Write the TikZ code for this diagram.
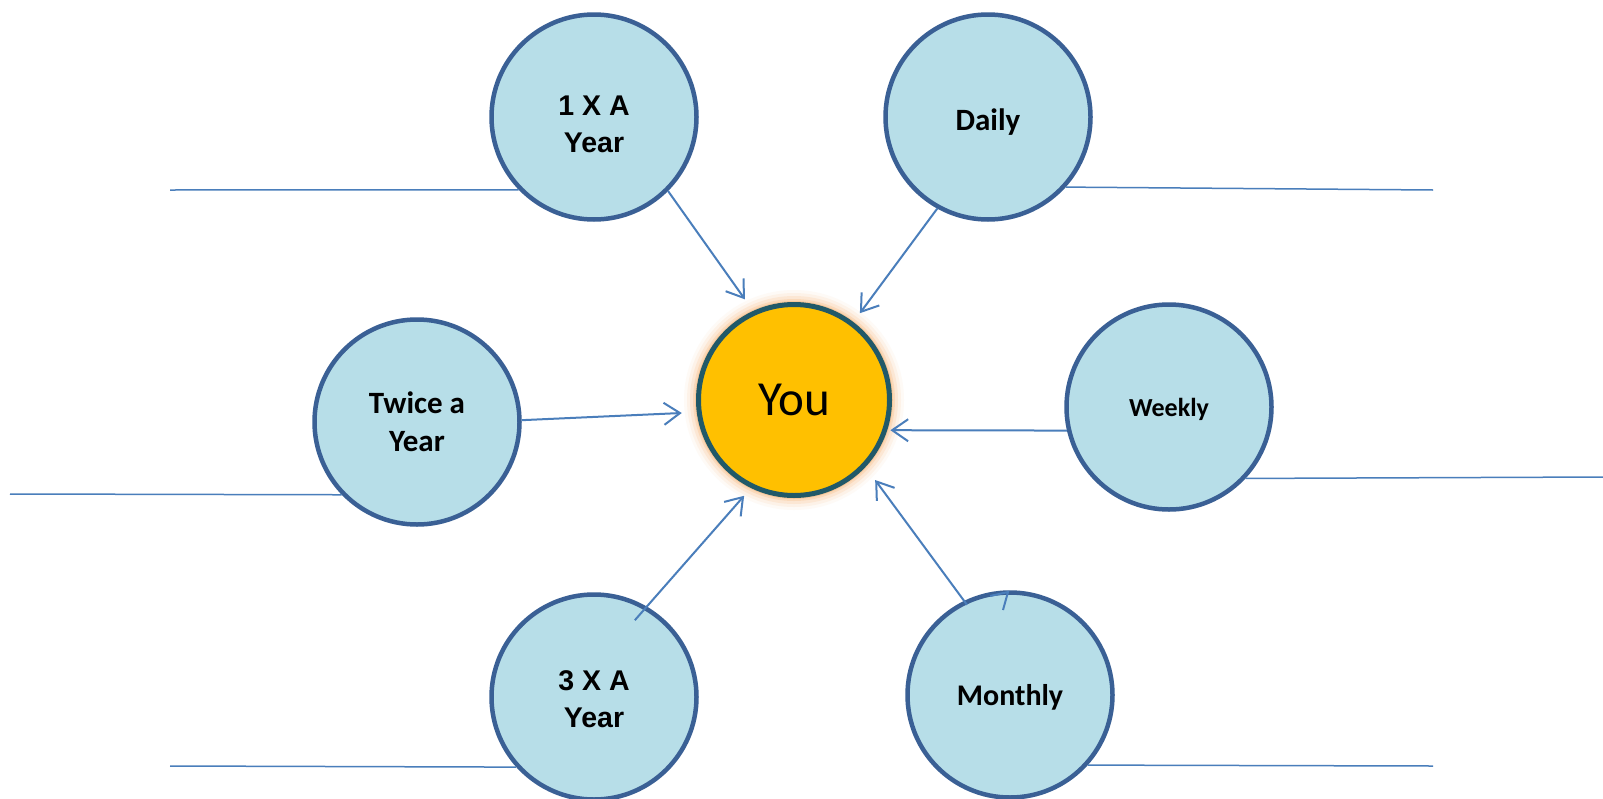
\documentclass[tikz,border=0pt]{standalone}
\usepackage{fontspec}
\setmainfont{Carlito}
\newfontfamily\arialfont{Liberation Sans}
\usetikzlibrary{arrows.meta,calc}
\definecolor{cfill}{HTML}{B7DEE8}
\definecolor{cline}{HTML}{3A6095}
\definecolor{aline}{HTML}{4A7EBB}
\definecolor{yfill}{HTML}{FFC000}
\definecolor{yline}{HTML}{215968}
\definecolor{glow}{HTML}{F7B26E}
\begin{document}
\begin{tikzpicture}[x=1pt,y=-1pt,
  bub/.style={circle,draw=cline,fill=cfill,line width=4.5pt,minimum size=205pt,inner sep=0pt},
  txtc/.style={align=center,font=\bfseries\fontsize{31}{38}\selectfont},
  txta/.style={align=center,font=\arialfont\bfseries\fontsize{28.5}{37}\selectfont},
  youbub/.style={circle,draw=yline,fill=yfill,line width=5pt,minimum size=191pt,inner sep=0pt,
              font=\fontsize{49}{58}\selectfont},
  arr/.style={draw=aline,line width=2pt,-{Straight Barb[length=16pt,width=22pt]}},
  hl/.style={draw=aline,line width=1.5pt}]
\useasboundingbox (0,0) rectangle (1603,798);
\fill[white] (0,0) rectangle (1603,798);
% glow around "You"
\coordinate (yc) at (794,400);
\foreach \r/\o in {110/0.06,107/0.10,104/0.16,101/0.25,99/0.4}{
  \fill[glow,opacity=\o] (yc) circle (\r pt);
}
\node[youbub] (you) at (yc) {You};
\node[bub,label={[txta,yshift=-7pt]center:{1 X A\\Year}}] (y1) at (594,117) {};
\node[bub,label={[txtc,yshift=-5pt]center:{Daily}}] (da) at (988,117) {};
\node[bub,label={[txtc]center:{Twice a\\Year}}] (tw) at (417,422) {};
\node[bub,label={[txtc,font=\bfseries\fontsize{26}{31}\selectfont,yshift=-2pt]center:{Weekly}}] (wk) at (1169,407) {};
\node[bub,label={[txta,yshift=-2pt]center:{3 X A\\Year}}] (y3) at (594,697) {};
\node[bub,label={[txtc,font=\bfseries\fontsize{30}{36}\selectfont,yshift=-2pt]center:{Monthly}}] (mo) at (1010,695) {};
% horizontal lines
\coordinate (l1) at (170,190);
\coordinate (l2) at (1433,190);
\coordinate (l3) at (10,494);
\coordinate (l4) at (1603,477);
\coordinate (l5) at (170,766);
\coordinate (l6) at (1433,766);
\draw[hl] (l1) -- (y1.-136.5);
\draw[hl] (da.-42.8) -- (l2);
\draw[hl] (l3) -- (tw.-136);
\draw[hl] (wk.-43) -- (l4);
\draw[hl] (l5) -- (y3.-138.8);
\draw[hl] (mo.-42) -- (l6);
% arrows to "You"
\draw[arr] (y1.-45.4) -- ($(you.center)+(116:112pt)$);
\draw[arr] (da.-119.7) -- ($(you.center)+(52.8:109pt)$);
\draw[arr] (tw.1) -- ($(you.center)+(-173.4:113pt)$);
\draw[arr] (wk.-167.4) -- ($(you.center)+(-17.4:101pt)$);
\draw[arr] ($(y3.center)+(62:87pt)$) -- ($(you.center)+(-117.5:108pt)$);
\draw[arr] ($(mo.center)+(115.5:100pt)$) -- ($(you.center)+(-44.6:114pt)$);
% small stray tip on Monthly
\draw[draw=aline,line width=2pt] ($(mo.center)+(-7,-85)$) -- ($(mo.center)+(-2,-103)$) -- ($(mo.center)+(-20,-99)$);
\end{tikzpicture}
\end{document}
